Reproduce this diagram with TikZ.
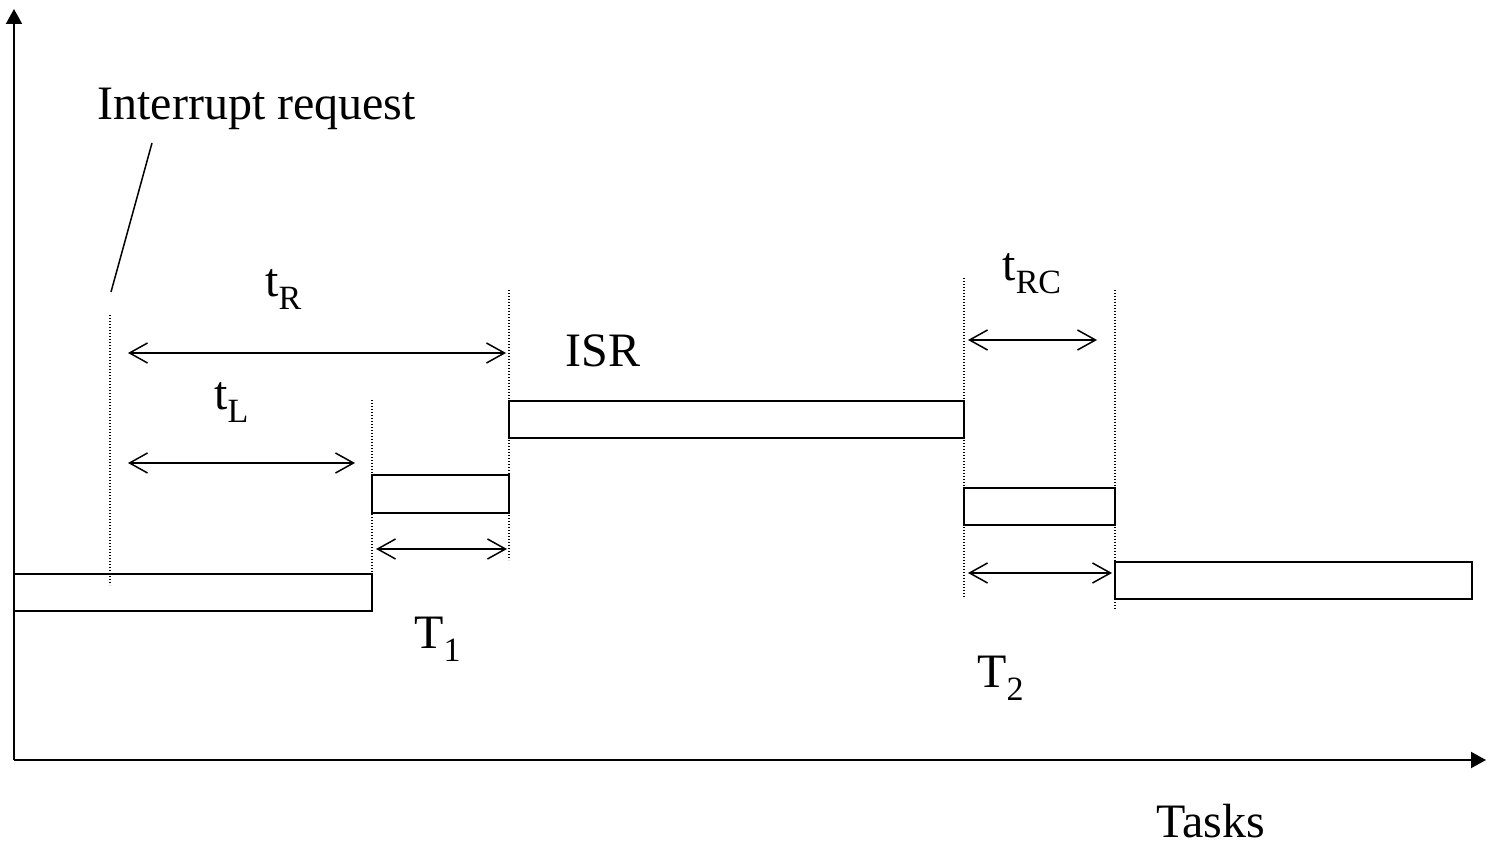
\documentclass[tikz,border=0pt]{standalone}
\usepackage{fontspec}
\setmainfont{Liberation Serif}
\usetikzlibrary{arrows.meta}
\newcommand\lowsub[1]{\raisebox{-6.5pt}{\fontsize{17}{17}\selectfont #1}}
\begin{document}
\begin{tikzpicture}[x=0.5pt,y=-0.5pt,
  axis/.style={line width=1pt,-{Triangle[length=7.5pt,width=8pt]}},
  taskbox/.style={draw,line width=1pt,rectangle,minimum height=18.5pt,inner sep=0pt},
  span/.style={line width=0.75pt,{Straight Barb[length=9pt,width=10pt]}-{Straight Barb[length=9pt,width=10pt]}},
  marker/.style={line width=0.75pt,dash pattern=on 0.6pt off 0.9pt},
  label/.style={anchor=base west,inner sep=0pt,font=\fontsize{24}{28}\selectfont}]
\useasboundingbox (0,0) rectangle (1487,849);

% axes
\coordinate (origin) at (14,760);
\coordinate (ytop) at (14,9);
\coordinate (xend) at (1486,760);
\draw[axis] (origin) -- (ytop);
\draw[axis] (origin) -- (xend);

% task bars
\node[taskbox,minimum width=179pt]   (pre)  at (193,592.5) {};
\node[taskbox,minimum width=68.5pt]  (tone) at (440.5,494) {};
\node[taskbox,minimum width=227.5pt] (isr)  at (736.5,420) {};
\node[taskbox,minimum width=75.5pt]  (ttwo) at (1039.5,506.5) {};
\node[taskbox,minimum width=178.5pt] (post) at (1293.5,580.5) {};

% dotted time markers
\coordinate (m1a) at (110,315);  \coordinate (m1b) at (110,585);
\coordinate (m2a) at (372,400);  \coordinate (m2b) at (372,572);
\coordinate (m3a) at (509,290);  \coordinate (m3b) at (509,560);
\coordinate (m4a) at (964,278);  \coordinate (m4b) at (964,598);
\coordinate (m5a) at (1115,290); \coordinate (m5b) at (1115,610);
\foreach \m in {1,...,5} \draw[marker] (m\m a) -- (m\m b);

% interval arrows
\coordinate (rL) at (128,353);  \coordinate (rR) at (506,353);
\coordinate (lL) at (128,463);  \coordinate (lR) at (355,463);
\coordinate (aL) at (376,549);  \coordinate (aR) at (507,549);
\coordinate (cL) at (968,340);  \coordinate (cR) at (1097,340);
\coordinate (bL) at (968,573);  \coordinate (bR) at (1112,573);
\draw[span] (rL) -- (rR);
\draw[span] (lL) -- (lR);
\draw[span] (aL) -- (aR);
\draw[span] (cL) -- (cR);
\draw[span] (bL) -- (bR);

% labels
\node[label] (irq) at (97,120) {Interrupt request};
\coordinate (irqtop) at (152,143);
\coordinate (irqfoot) at (111,292);
\draw[line width=0.75pt] (irqtop) -- (irqfoot);

\node[label] (tr)  at (265,297) {t\lowsub{R}};
\node[label] (tl)  at (214,410) {t\lowsub{L}};
\node[label] (trc) at (1002,281) {t\lowsub{RC}};
\node[label] (isrl) at (565,367) {ISR};
\node[label] (t1)  at (414,648) {T\lowsub{1}};
\node[label] (t2)  at (977,687) {T\lowsub{2}};
\node[label] (tasks) at (1156,837) {Tasks};
\end{tikzpicture}
\end{document}
